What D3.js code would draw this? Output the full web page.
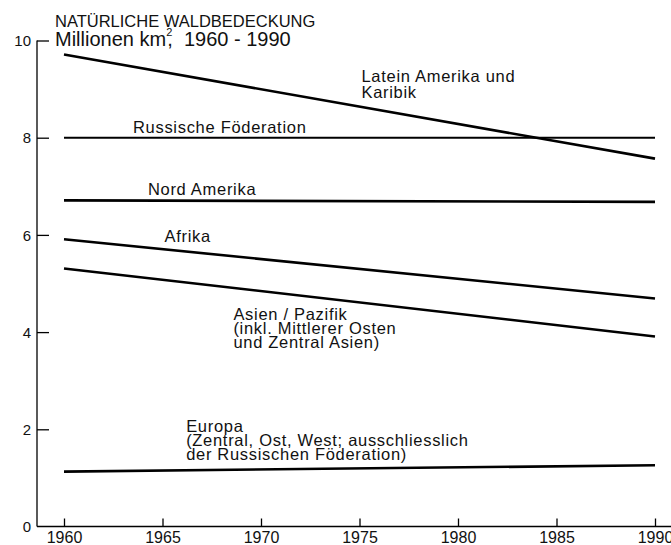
<!DOCTYPE html>
<html>
<head>
<meta charset="utf-8">
<script src="https://cdn.jsdelivr.net/npm/d3@7"></script>
<style>
  body { margin: 0; background: #fff; }
  svg text { font-family: "Liberation Sans", Arial, sans-serif; fill: #111; white-space: pre; }
  .axis path, .axis line { stroke: #000; stroke-width: 1.3; }
  .axis text { font-family: "Liberation Sans", Arial, sans-serif; fill: #111; }
  .line { fill: none; stroke: #000; }
  .label { font-size: 16.5px; letter-spacing: 0.7px; }
</style>
</head>
<body>
<div id="chart"></div>
<script>
// years and series values (Mio. km2)
var years = [1960, 1990];
var lateinAmerika = [9.71, 7.57];
var russland = [8.0, 8.0];
var nordAmerika = [6.71, 6.68];
var afrika = [5.91, 4.69];
var asien = [5.31, 3.91];
var europa = [1.13, 1.26];

var xTicks = [1960, 1965, 1970, 1975, 1980, 1985, 1990];
var yTicks = [0, 2, 4, 6, 8, 10];

var series = [
  { name: "Latein Amerika", values: lateinAmerika, label: ["Latein Amerika und", "Karibik"], lx: 1975.1, ly: 9.14, gap: 16 },
  { name: "Russland", values: russland, label: ["Russische Föderation"], lx: 1963.5, ly: 8.1, gap: 14 },
  { name: "Nord Amerika", values: nordAmerika, label: ["Nord Amerika"], lx: 1964.26, ly: 6.82, gap: 14 },
  { name: "Afrika", values: afrika, label: ["Afrika"], lx: 1965.1, ly: 5.86, gap: 14 },
  { name: "Asien", values: asien, label: ["Asien / Pazifik", "(inkl. Mittlerer Osten", "und Zentral Asien)"], lx: 1968.6, ly: 4.24, gap: 14 },
  { name: "Europa", values: europa, label: ["Europa", "(Zentral, Ost, West; ausschliesslich", "der Russischen Föderation)"], lx: 1966.2, ly: 1.94, gap: 14 }
];

var width = 671, height = 545;
var svg = d3.select("#chart").append("svg")
  .attr("width", width)
  .attr("height", height);

var x = d3.scaleLinear().domain([1960, 1990]).range([64, 655]);
var y = d3.scaleLinear().domain([0, 10]).range([526.5, 40.5]);

// x axis
var xAxis = svg.append("g")
  .attr("class", "axis")
  .attr("transform", "translate(0," + y(0) + ")")
  .call(d3.axisTop(x).tickValues(xTicks).tickFormat(d3.format("d")).tickSize(8).tickSizeOuter(0));
xAxis.select(".domain").attr("d", "M37,0H671");
xAxis.selectAll("text").attr("y", 16.5).attr("dy", 0).style("font-size", "16px");

// y axis
var yAxis = svg.append("g")
  .attr("class", "axis")
  .attr("transform", "translate(37,0)")
  .call(d3.axisRight(y).tickValues(yTicks).tickSize(12).tickSizeOuter(0));
yAxis.select(".domain").attr("d", "M0," + y(10) + "V" + y(0));
yAxis.selectAll(".tick text").attr("x", -6).attr("dy", "0.35em").attr("text-anchor", "end").style("font-size", "15px");
yAxis.selectAll(".tick").filter(function(d) { return d === 0; }).select("line").remove();

// lines
var line = d3.line()
  .x(function(d, i) { return x(years[i]); })
  .y(function(d) { return y(d); });

svg.selectAll(".line").data(series).enter().append("path")
  .attr("class", "line")
  .attr("stroke-width", function(d) { return d.name === "Russland" ? 2 : 2.6; })
  .attr("d", function(d) { return line(d.values); });

// labels
series.forEach(function(s) {
  var t = svg.append("text")
    .attr("class", "label")
    .attr("x", x(s.lx))
    .attr("y", y(s.ly));
  s.label.forEach(function(l, i) {
    t.append("tspan").attr("x", x(s.lx)).attr("dy", i === 0 ? 0 : s.gap).text(l);
  });
});

// title
svg.append("text").attr("x", 55).attr("y", 27).style("font-size", "16.5px").text("NATÜRLICHE WALDBEDECKUNG");
var sub = svg.append("text").attr("x", 55).attr("y", 46).style("font-size", "20px");
sub.append("tspan").text("Millionen km");
sub.append("tspan").attr("dy", -10).style("font-size", "11px").text("2");
sub.append("tspan").attr("dx", -5).attr("dy", 10).text(",  1960 - 1990");
</script>
</body>
</html>
